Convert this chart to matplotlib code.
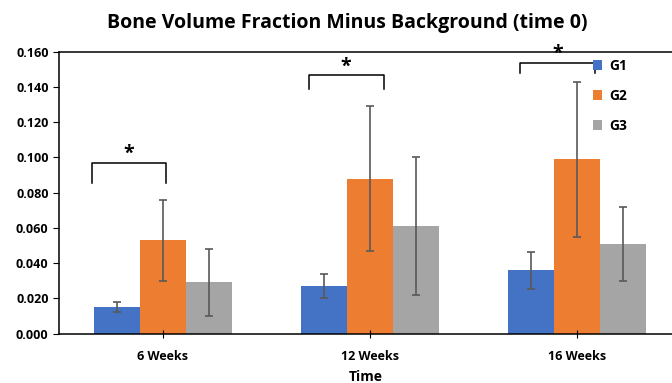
import matplotlib.pyplot as plt
import numpy as np

times = ['6 Weeks', '12 Weeks', '16 Weeks']
groups = ['G1', 'G2', 'G3']
g1 = [0.015, 0.027, 0.036]
g2 = [0.053, 0.088, 0.099]
g3 = [0.029, 0.061, 0.051]
g1_err = [0.003, 0.007, 0.0105]
g2_err = [0.023, 0.041, 0.044]
g3_err = [0.019, 0.039, 0.021]
colors = ['#4472C4', '#ED7D31', '#A5A5A5']

# significance brackets: (x start, x end, y top, y bottom) relative to group center
brackets = [(-0.343, 0.019, 0.097, 0.0855),
            (-0.295, 0.068, 0.1465, 0.139),
            (-0.275, 0.087, 0.1535, 0.148)]

plt.rcParams['font.family'] = ['Open Sans', 'DejaVu Sans']
plt.rcParams['font.weight'] = 'bold'

fig = plt.figure(figsize=(6.72, 3.83), dpi=100)
ax = fig.add_axes([0.0878, 0.1292, 0.9122, 0.7358])

x = np.arange(len(times))
w = 0.222
vals = [g1, g2, g3]
errs = [g1_err, g2_err, g3_err]
for i in range(3):
    ax.bar(x + (i - 1) * w, vals[i], w, color=colors[i], label=groups[i],
           yerr=errs[i], capsize=3,
           error_kw=dict(ecolor='#595959', elinewidth=1.2, capthick=1.2))

for i, (a, b, top, bot) in enumerate(brackets):
    ax.plot([x[i] + a, x[i] + a, x[i] + b, x[i] + b], [bot, top, top, bot],
            color='black', lw=1.1, clip_on=False)
    ax.text(x[i] + (a + b) / 2, top - 0.0005, '*', ha='center', va='bottom',
            fontsize=14, fontweight='bold')

ax.set_xlim(-0.5, 2.46)
ax.set_ylim(0, 0.16)
ax.set_yticks(np.arange(0, 0.161, 0.02))
ax.set_yticklabels(['%.3f' % v for v in np.arange(0, 0.161, 0.02)], fontsize=9)
ax.set_xticks(x)
ax.set_xticklabels(times, fontsize=9)
ax.tick_params(axis='x', direction='inout', length=6, pad=9)
ax.tick_params(axis='y', direction='out', length=4)
ax.spines['right'].set_visible(False)
for s in ['left', 'top', 'bottom']:
    ax.spines[s].set_linewidth(1.1)
ax.set_xlabel('Time', fontsize=10, fontweight='bold', labelpad=5)

ax.legend(loc='upper left', bbox_to_anchor=(0.85, 1.02), frameon=False,
          fontsize=10, handlelength=0.7, handleheight=0.7, handletextpad=0.5,
          labelspacing=1.15)

fig.suptitle('Bone Volume Fraction Minus Background (time 0)', x=0.516, y=0.965,
             fontsize=14, fontweight='bold')

fig.savefig('out.png', dpi=100)
